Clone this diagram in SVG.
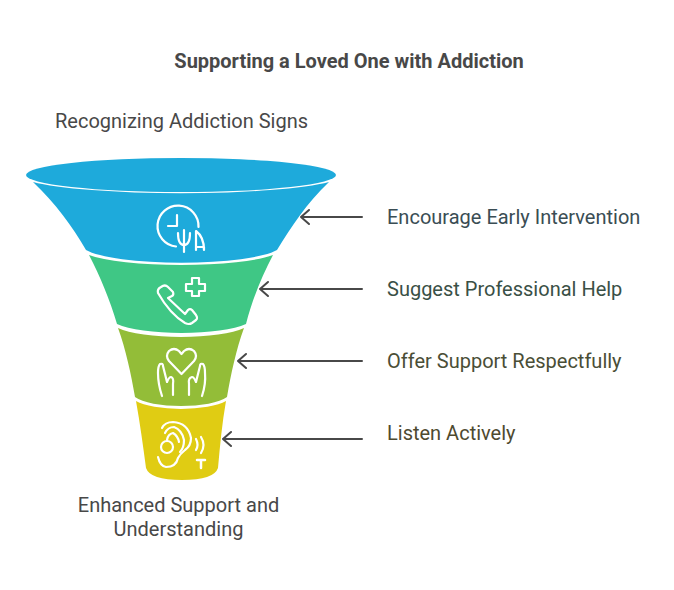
<svg xmlns="http://www.w3.org/2000/svg" width="674" height="590" viewBox="0 0 674 590">
<style>
text{font-family:Roboto,"Liberation Sans",sans-serif;font-size:20px;fill:#484848}
.t{font-weight:700;text-anchor:middle}
.m{text-anchor:middle}
.i{fill:none;stroke:#fff;stroke-width:2.200;stroke-linecap:round;stroke-linejoin:round}
.c{fill:none;stroke:#484848;stroke-width:2;stroke-linecap:round;stroke-linejoin:round}
</style>
<rect width="674" height="590" fill="#fff"/>
<text class="t" x="349" y="68">Supporting a Loved One with Addiction</text>
<text x="55" y="128">Recognizing Addiction Signs</text>
<text class="m" x="178.500" y="512">Enhanced Support and</text>
<text class="m" x="178.500" y="536">Understanding</text>
<g id="stage1">
<ellipse cx="181" cy="175" rx="155" ry="17" fill="#1eaadb"/>
<path d="M33 182A160 18 0 0 0 329 182C306 204 292 226 277 250A100 18 0 0 1 86 250C72 226 56 204 33 182Z" fill="#1eaadb"/>
<g class="i"><path d="M176 246.500A20.500 20.500 0 1 1 198.500 227"/><path d="M177 215V226H168"/><path d="M184 230V252M178 233Q178 245 184 245Q190 245 190 233"/><path d="M196 250V231Q204 237 204 250V247H196"/></g>
<text x="387" y="224" style="fill:#3a4d54">Encourage Early Intervention</text>
</g>
<g id="stage2">
<path d="M89 255A100 16.500 0 0 0 273 255C262 276 252 300 246 324A72 16 0 0 1 117 324C110 300 100 276 89 255Z" fill="#3fc785"/>
<g class="i"><path d="M158 293Q157 289 161 287Q165 284 168 287L173 292Q174 295 172 296L168 298L185 314L188 310Q190 308 192 310L196 315Q198 318 196 320L192 323Q189 325 185 323Q170 314 158 293Z"/><path d="M192 278H199V284H205V291H199V296H192V291H186V284H192Z"/></g>
<text x="387" y="296" style="fill:#3a5046">Suggest Professional Help</text>
</g>
<g id="stage3">
<path d="M118 328A70 16 0 0 0 244 328C236 350 231 374 227 397A50 15 0 0 1 135 397C131 374 126 350 118 328Z" fill="#93bd38"/>
<g class="i"><path d="M181.500 374L169 361Q165 356 169 351Q174 347 179 351L181.500 354L184 351Q189 347 194 351Q198 356 194 361Z"/><path d="M162 396Q158 384 158 373Q158 366 160 364Q163 363 163 366L167 382Q169 377 171 377Q174 378 173 384L173 395"/><path d="M202 396Q206 384 205 373Q205 366 203 364Q200 363 200 366L196 382Q194 377 192 377Q188 378 189 384L189 395"/></g>
<text x="387" y="368" style="fill:#4a4e36">Offer Support Respectfully</text>
</g>
<g id="stage4">
<path d="M136 401A50 14 0 0 0 226 401C222 423 220 446 218 468Q214 480 182 480Q150 480 146 468C143 446 140 423 136 401Z" fill="#e0cc13"/>
<g class="i"><path d="M162 428Q165 422 173 422Q188 423 191 438Q191 446 185 450Q180 454 178 458Q176 467 166 467Q160 466 158 457"/><path d="M165 433Q168 427 174 427Q182 430 184 440Q184 448 180 452"/><path d="M167 440Q168 434 173 433Q178 436 179 442"/><circle cx="167" cy="447" r="6"/><path d="M196 439Q199 445 196 450M201 437Q206 445 201 453"/><path d="M197 460H205M201 460V468" stroke-width="2.500"/></g>
<text x="387" y="440" style="fill:#4e4a30">Listen Actively</text>
</g>
<g id="connectors">
<path class="c" d="M362 217H301M309 210L301 217L309 224"/>
<path class="c" d="M362 289H260M268 282L260 289L268 296"/>
<path class="c" d="M362 361H238M246 354L238 361L246 368"/>
<path class="c" d="M362 439H223M231 432L223 439L231 446"/>
</g>
</svg>
